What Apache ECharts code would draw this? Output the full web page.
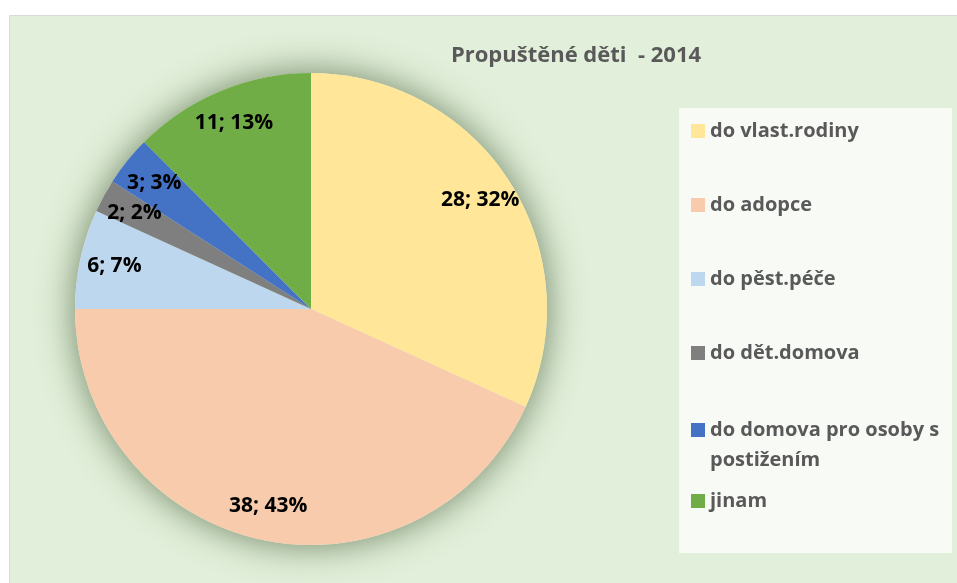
<!DOCTYPE html>
<html>
<head>
<meta charset="utf-8">
<script src="https://cdn.jsdelivr.net/npm/echarts@6/dist/echarts.min.js"></script>
<style>
  html, body { margin: 0; padding: 0; background: #fff; }
  #chart { width: 957px; height: 583px; }
</style>
</head>
<body>
<div id="chart"></div>
<script>
// data
var categories = ['do vlast.rodiny', 'do adopce', 'do pěst.péče', 'do dět.domova', 'do domova pro osoby s postižením', 'jinam']
var values = [28, 38, 6, 2, 3, 11]
var colors = ['#ffe699', '#f8cbad', '#bdd7ee', '#7f7f7f', '#4472c4', '#70ad47']

var myChart = echarts.init(document.getElementById('chart'))

var R = 236
var center = [311, 309]
var font = '"Open Sans", sans-serif'

var pieData = categories.map(function(name, i) {
  return { name: name, value: values[i], itemStyle: { color: colors[i] } }
})

var legendText = { color: '#595959', fontSize: 20, fontWeight: 'bold', fontFamily: font, lineHeight: 30 }

var option = {
  backgroundColor: '#fff',
  animation: false,
  title: {
    text: 'Propuštěné děti  - 2014',
    left: 571,
    top: 40,
    textAlign: 'center',
    textStyle: { color: '#595959', fontSize: 22, fontWeight: 'bold', fontFamily: font }
  },
  graphic: [
    // chart area background
    { type: 'rect', z: -10, shape: { x: 9.5, y: 15.5, width: 960, height: 580 }, style: { fill: '#e2efda', stroke: '#d9d9d9', lineWidth: 1 } },
    // legend box
    { type: 'rect', z: -9, shape: { x: 679, y: 108, width: 273, height: 445 }, style: { fill: '#f8faf6' } }
  ],
  legend: [{
    orient: 'vertical',
    left: 691,
    top: 116,
    padding: 0,
    itemGap: 44,
    itemWidth: 14,
    itemHeight: 14,
    icon: 'rect',
    textStyle: legendText,
    data: categories.slice(0, 4)
  }, {
    // long name wraps; a blank first line keeps the icon on the first text line
    orient: 'vertical',
    left: 691,
    top: 385,
    padding: 0,
    itemWidth: 14,
    itemHeight: 14,
    icon: 'rect',
    textStyle: legendText,
    formatter: function(name) {
      return ' \ndo domova pro osoby s\npostižením'
    },
    data: categories.slice(4, 5)
  }, {
    orient: 'vertical',
    left: 691,
    top: 486,
    padding: 0,
    itemWidth: 14,
    itemHeight: 14,
    icon: 'rect',
    textStyle: legendText,
    data: categories.slice(5)
  }],
  series: [{
    // soft halo behind the pie
    type: 'pie',
    silent: true,
    center: center,
    radius: R,
    z: 0,
    label: { show: false },
    labelLine: { show: false },
    itemStyle: { color: '#e2efda', shadowBlur: 36, shadowColor: 'rgba(60, 85, 45, 0.7)' },
    data: [{ name: '_halo', value: 1 }]
  }, {
    name: 'Propuštěné děti',
    type: 'pie',
    center: center,
    radius: R,
    z: 2,
    startAngle: 90,
    clockwise: true,
    label: { show: false },
    labelLine: { show: false },
    itemStyle: { borderWidth: 0 },
    emphasis: { disabled: true },
    data: pieData
  }, {
    // transparent ring only used to place labels like Excel does
    type: 'pie',
    silent: true,
    center: center,
    radius: [R * 0.68, R],
    z: 3,
    startAngle: 90,
    clockwise: true,
    itemStyle: { color: 'rgba(0,0,0,0)' },
    labelLine: { show: false },
    label: {
      show: true,
      position: 'inside',
      color: '#000',
      fontSize: 21,
      fontWeight: 'bold',
      fontFamily: font,
      formatter: function(p) {
        return p.value + '; ' + Math.round(p.percent) + '%'
      }
    },
    emphasis: { disabled: true },
    data: categories.map(function(name, i) {
      return { name: name, value: values[i] }
    })
  }]
}

myChart.setOption(option, true)
window.onresize = () => {
  myChart.resize()
}
</script>
</body>
</html>
